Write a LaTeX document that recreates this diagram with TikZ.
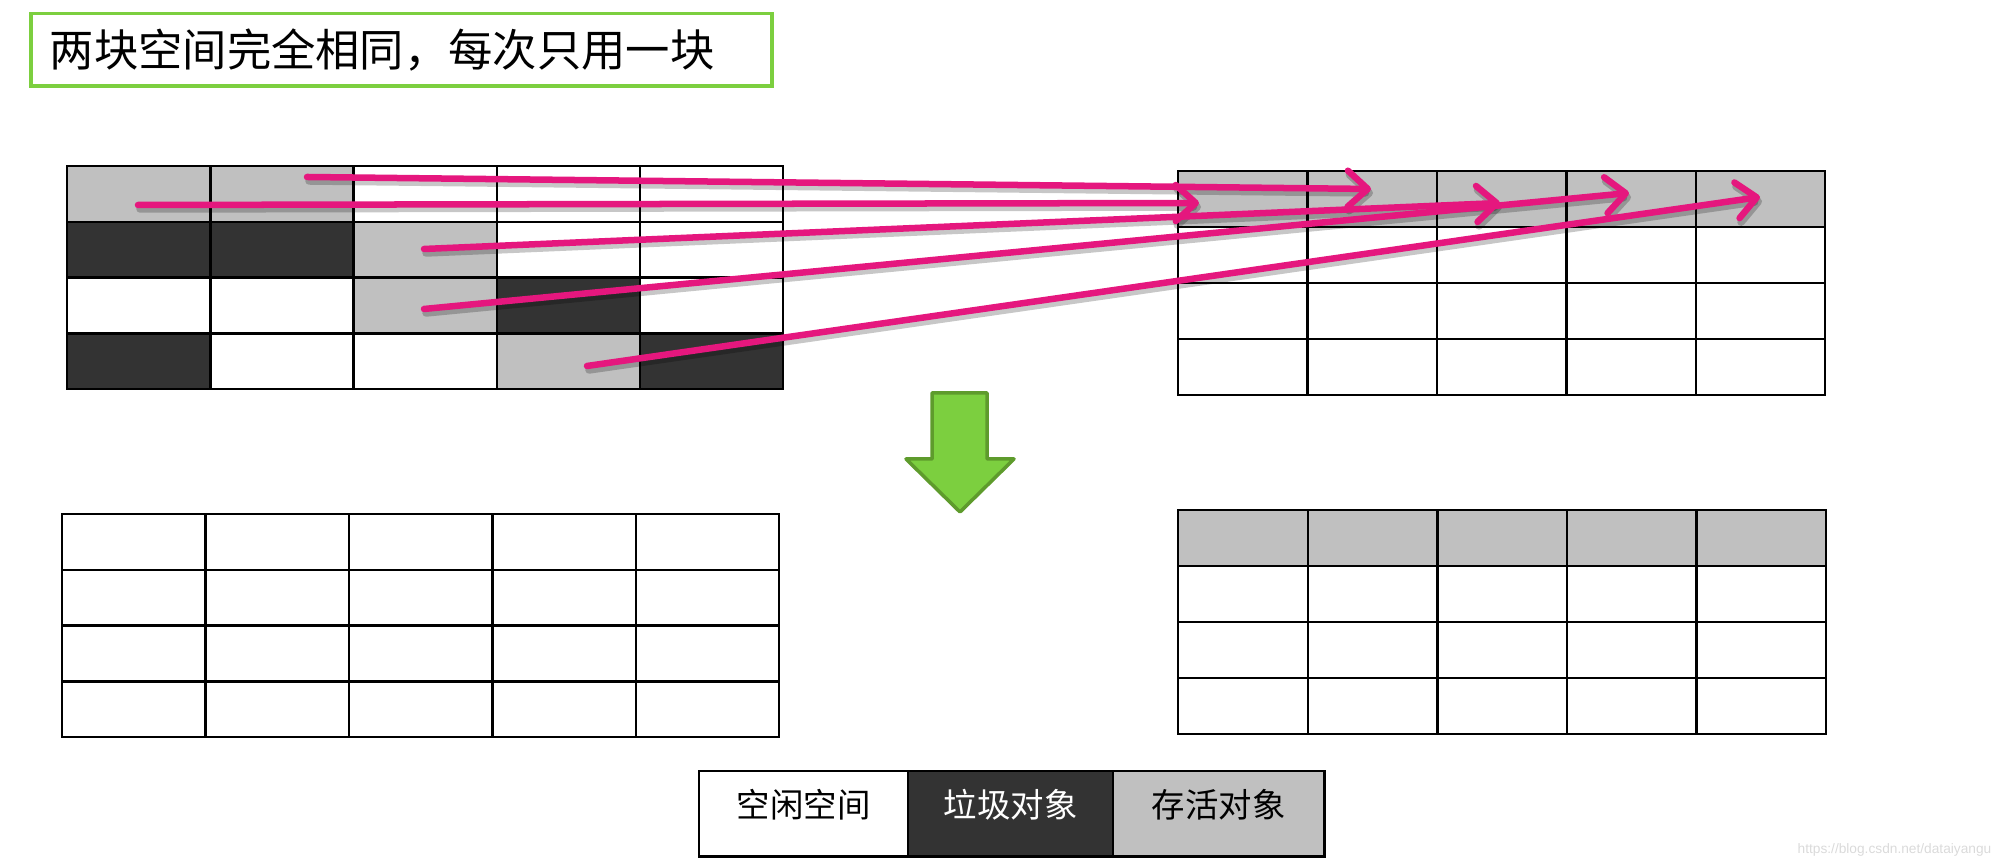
\documentclass[tikz,border=0pt]{standalone}
\usepackage{fontspec}
\newfontfamily\cjk{Noto Sans CJK SC}
\setsansfont{Liberation Sans}
\usetikzlibrary{arrows.meta}
\definecolor{live}{HTML}{C0C0C0}
\definecolor{garbage}{HTML}{333333}
\definecolor{mag}{HTML}{E5177E}
\definecolor{grn}{HTML}{7CCF3F}
\definecolor{grnd}{HTML}{5E9B2C}
\definecolor{wm}{HTML}{DADADA}
\newcommand\memgrid[6]{%
  \foreach \row [count=\r from 0] in {#6} {%
    \foreach \f [count=\c from 0] in \row {%
      \node[cell, fill=\f, minimum width=#4*0.01cm, minimum height=#5*0.01cm]
        (#1-\r-\c) at ({#2+\c*#4},{#3+\r*#5}) {};
    }%
  }%
}
\begin{document}
\begin{tikzpicture}[x=0.01cm,y=-0.01cm,
  cell/.style={draw=black, line width=0.7pt, inner sep=0pt, anchor=north west, rectangle},
  titlebox/.style={draw=grn, line width=1pt, anchor=north west, align=left,
     inner xsep=0.19cm, inner ysep=0pt, minimum height=0.72cm, text width=7.03cm,
     font=\cjk\fontsize{12.6}{15}\selectfont},
  legbox/.style={draw=black, line width=0.7pt, inner sep=0pt, anchor=north west,
     minimum height=0.85cm},
  legtext/.style={font=\cjk\fontsize{9.5}{11}\selectfont, inner sep=0pt},
  moveto/.style={draw=mag, line width=0.065cm, line cap=round,
     -{Straight Barb[length=2mm,width=3.6mm,round]}},
  shadowline/.style={draw=black, opacity=0.22, line width=0.075cm, line cap=round,
     -{Straight Barb[length=2mm,width=3.6mm,round]}},
  bigarrow/.style={fill=grn, draw=grnd, line width=1pt, line join=round}
]
\useasboundingbox (0,0) rectangle (2000,868);

% title
\node[titlebox] (title) at (29,12) {两块空间完全相同，每次只用一块};

% top-left: from-space before collection
\memgrid{tl}{66}{165}{143.2}{55.75}{{live,live,white,white,white},{garbage,garbage,live,white,white},{white,white,live,garbage,white},{garbage,white,white,live,garbage}}
% top-right: to-space
\memgrid{tr}{1177}{170}{129.4}{56}{{live,live,live,live,live},{white,white,white,white,white},{white,white,white,white,white},{white,white,white,white,white}}
% bottom-left
\memgrid{bl}{61}{513}{143.4}{55.75}{{white,white,white,white,white},{white,white,white,white,white},{white,white,white,white,white},{white,white,white,white,white}}
% bottom-right
\memgrid{br}{1177}{509}{129.6}{56}{{live,live,live,live,live},{white,white,white,white,white},{white,white,white,white,white},{white,white,white,white,white}}

% copy arrows
\coordinate (s1) at (307,177);  \coordinate (e1) at (1371,189);
\coordinate (s2) at (138,205);  \coordinate (e2) at (1199,203);
\coordinate (s3) at (424,249);  \coordinate (e3) at (1500,203);
\coordinate (s4) at (424,309);  \coordinate (e4) at (1629,193);
\coordinate (s5) at (587,366);  \coordinate (e5) at (1760,197);
\begin{scope}[transform canvas={shift={(2,4)}}]
  \foreach \i in {1,...,5} \draw[shadowline] (s\i) -- (e\i);
\end{scope}
\foreach \i in {1,...,5} \draw[moveto] (s\i) -- (e\i);

% big green arrow
\draw[bigarrow] (932,393) -- (987,393) -- (987,459) -- (1014,459) -- (960,512)
  -- (906,459) -- (932,459) -- cycle;

% legend
\node[legbox, fill=white, minimum width=2.09cm] (free) at (698,770) {};
\node[legbox, fill=garbage, minimum width=2.05cm] (dead) at (907,770) {};
\node[legbox, fill=live, minimum width=2.11cm] (alive) at (1112,770) {};
\node[legtext] (freet) at ([yshift=0.09cm]free.center) {空闲空间};
\node[legtext, text=white] (deadt) at ([yshift=0.09cm]dead.center) {垃圾对象};
\node[legtext] (alivet) at ([yshift=0.09cm]alive.center) {存活对象};

% watermark
\node[anchor=east, inner sep=0pt, text=wm, font=\sffamily\fontsize{3.9}{4.5}\selectfont] (wmk) at (1992,850) {https://blog.csdn.net/dataiyangu};
\end{tikzpicture}
\end{document}
